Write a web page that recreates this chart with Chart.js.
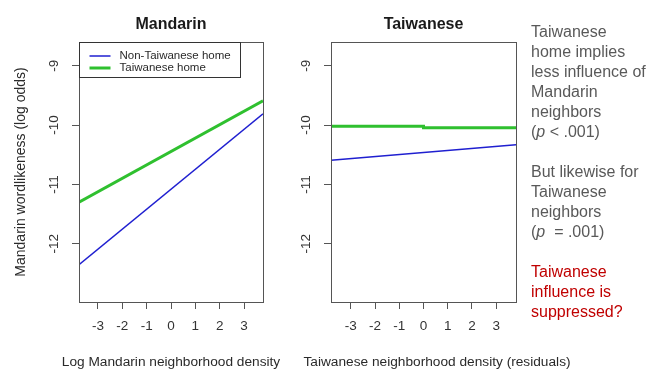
<!DOCTYPE html>
<html>
<head>
<meta charset="utf-8">
<script src="https://cdn.jsdelivr.net/npm/chart.js@4"></script>
<style>
  html, body { margin: 0; padding: 0; background: #fff; width: 649px; height: 373px; overflow: hidden; }
  .layer { position: absolute; left: 0; top: 0; width: 649px; height: 373px; }
  #notes {
    position: absolute; left: 531px; top: 22px;
    font: 16px "Liberation Sans", Arial, sans-serif; line-height: 20px;
    color: #595959; white-space: nowrap;
  }
  #notes .red { color: #c00000; }
</style>
</head>
<body>
<div class="layer"><canvas id="mandarinPanel"></canvas></div>
<div class="layer"><canvas id="taiwanesePanel"></canvas></div>
<div id="notes">Taiwanese<br>home implies<br>less influence of<br>Mandarin<br>neighbors<br>(<i>p</i> &lt; .001)<br><br>But likewise for<br>Taiwanese<br>neighbors<br>(<i>p</i> &nbsp;= .001)<br><br><span class="red">Taiwanese<br>influence is<br>suppressed?</span></div>
<script>
// Series and tick values
const seriesNames = ['Non-Taiwanese home', 'Taiwanese home'];
const yTickValues = [-12, -11, -10, -9];
const xTickValues = [-3, -2, -1, 0, 1, 2, 3];

// Mandarin neighborhood density panel (fitted log odds at the axis ends)
const mandarinX = [-3.78, 3.78];
const mandarinNonTaiwanese = [-12.35, -9.81];
const mandarinTaiwanese = [-11.30, -9.59];

// Taiwanese neighborhood density panel
const taiwaneseXNon = [-3.82, 3.82];
const taiwaneseNonTaiwanese = [-10.59, -10.33];
const taiwaneseXTw = [-3.82, 0, 0, 3.82];
const taiwaneseTaiwanese = [-10.02, -10.02, -10.045, -10.045];

const FONT = '"Liberation Sans", Arial, Helvetica, sans-serif';
const seriesColors = ['#1f1fd0', '#2fc02f'];
const seriesWidths = [1.5, 3];

const pairUp = (xs, ys) => xs.map((x, i) => ({ x, y: ys[i] }));

// Box, panel title, axis titles and legend, drawn in R-plot style
const panelDecor = {
  id: 'panelDecor',
  afterDraw(chart, args, opts) {
    const { ctx, chartArea: a } = chart;
    const mid = (a.left + a.right) / 2;
    ctx.save();
    ctx.strokeStyle = '#555';
    ctx.lineWidth = 1;
    ctx.strokeRect(Math.round(a.left) + 0.5, Math.round(a.top) + 0.5,
                   Math.round(a.right - a.left), Math.round(a.bottom - a.top));

    ctx.textAlign = 'center';
    ctx.textBaseline = 'middle';
    ctx.fillStyle = '#1a1a1a';
    ctx.font = 'bold 16px ' + FONT;
    ctx.fillText(opts.title, mid, a.top - 17);

    ctx.fillStyle = '#2a2a2a';
    ctx.font = '13.7px ' + FONT;
    ctx.fillText(opts.xTitle, mid + (opts.xTitleShift || 0), a.bottom + 60);

    if (opts.yTitle) {
      ctx.save();
      ctx.font = '14px ' + FONT;
      ctx.translate(a.left - 57.5, (a.top + a.bottom) / 2);
      ctx.rotate(-Math.PI / 2);
      ctx.fillText(opts.yTitle, 0, 0);
      ctx.restore();
    }

    if (opts.legend) {
      const lx = Math.round(a.left) + 0.5, ly = Math.round(a.top) + 0.5;
      ctx.fillStyle = '#fff';
      ctx.fillRect(lx, ly, 161, 35);
      ctx.strokeStyle = '#333';
      ctx.lineWidth = 1;
      ctx.strokeRect(lx, ly, 161, 35);
      ctx.textAlign = 'left';
      ctx.font = '11.5px ' + FONT;
      chart.data.datasets.forEach((ds, i) => {
        const ry = ly + 13.5 + i * 12;
        ctx.strokeStyle = ds.borderColor;
        ctx.lineWidth = ds.borderWidth;
        ctx.beginPath();
        ctx.moveTo(lx + 10, ry);
        ctx.lineTo(lx + 31, ry);
        ctx.stroke();
        ctx.fillStyle = '#2a2a2a';
        ctx.fillText(ds.label, lx + 40, ry);
      });
    }
    ctx.restore();
  }
};

function makePanel(canvasId, series, xRange, layout, decor) {
  return new Chart(document.getElementById(canvasId), {
    type: 'line',
    data: {
      datasets: series.map((s, i) => ({
        label: seriesNames[i],
        data: s,
        borderColor: seriesColors[i],
        borderWidth: seriesWidths[i],
        pointRadius: 0,
        tension: 0,
        fill: false
      }))
    },
    options: {
      responsive: true,
      maintainAspectRatio: false,
      animation: false,
      layout: { padding: layout.padding },
      plugins: {
        legend: { display: false },
        tooltip: { enabled: false },
        title: { display: false },
        panelDecor: decor
      },
      scales: {
        x: {
          type: 'linear',
          min: xRange[0],
          max: xRange[1],
          afterBuildTicks: sc => { sc.ticks = xTickValues.map(v => ({ value: v })); },
          afterFit: sc => { sc.height = 71; },
          grid: { drawOnChartArea: false, drawTicks: true, tickLength: 7, tickColor: '#555' },
          border: { display: false },
          ticks: {
            font: { family: FONT, size: 13.5 },
            color: '#333',
            padding: 9,
            maxRotation: 0,
            minRotation: 0
          }
        },
        y: {
          type: 'linear',
          min: -12.98,
          max: -8.6,
          afterBuildTicks: sc => { sc.ticks = yTickValues.map(v => ({ value: v })); },
          afterFit: sc => { sc.width = layout.yWidth; },
          grid: { drawOnChartArea: false, drawTicks: true, tickLength: 7, tickColor: '#555' },
          border: { display: false },
          ticks: {
            font: { family: FONT, size: 13.5 },
            color: '#333',
            padding: 8,
            minRotation: 90,
            maxRotation: 90,
            crossAlign: 'center'
          }
        }
      }
    },
    plugins: [panelDecor]
  });
}

makePanel('mandarinPanel',
  [pairUp(mandarinX, mandarinNonTaiwanese), pairUp(mandarinX, mandarinTaiwanese)],
  [-3.78, 3.78],
  { padding: { left: 0, right: 386, top: 42, bottom: 0 }, yWidth: 79 },
  { title: 'Mandarin', xTitle: 'Log Mandarin neighborhood density',
    yTitle: 'Mandarin wordlikeness (log odds)', legend: true });

makePanel('taiwanesePanel',
  [pairUp(taiwaneseXNon, taiwaneseNonTaiwanese), pairUp(taiwaneseXTw, taiwaneseTaiwanese)],
  [-3.82, 3.82],
  { padding: { left: 290, right: 133, top: 42, bottom: 0 }, yWidth: 41 },
  { title: 'Taiwanese', xTitle: 'Taiwanese neighborhood density (residuals)',
    xTitleShift: 13.5, legend: false });
</script>
</body>
</html>
